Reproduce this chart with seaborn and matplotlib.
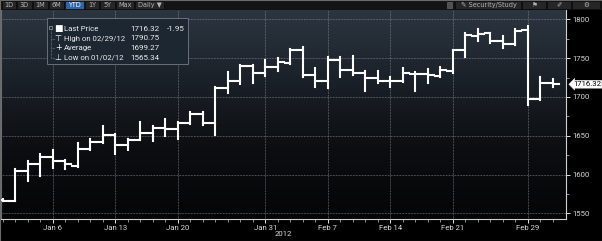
import numpy as np
import pandas as pd
import matplotlib
matplotlib.use("Agg")
import matplotlib.pyplot as plt
import seaborn as sns
from matplotlib.patches import Rectangle
from matplotlib.colors import LinearSegmentedColormap
import matplotlib.transforms as mtransforms

# ---------------- data ----------------
opens = [1567, 1566, 1604, 1614, 1623, 1618, 1611, 1633, 1642, 1651, 1638, 1645, 1653, 1660, 1658,
         1666, 1678, 1666, 1712, 1721, 1740, 1731, 1739, 1744, 1760, 1728, 1721, 1748, 1735, 1731,
         1725, 1721, 1720, 1730, 1730, 1727, 1734, 1760, 1779, 1782, 1772, 1768, 1786, 1697, 1718]
highs = [1568, 1607, 1618, 1626, 1631, 1619, 1640, 1646, 1662, 1652, 1646, 1668, 1662, 1671, 1668,
         1681, 1680, 1713, 1732, 1741, 1741, 1748, 1750, 1762, 1764, 1737, 1751, 1752, 1753, 1733,
         1734, 1726, 1737, 1732, 1736, 1739, 1761, 1783, 1787, 1783, 1778, 1787, 1790.75, 1726, 1723]
lows = [1565.34, 1566, 1592, 1598, 1608, 1607, 1610, 1632, 1641, 1627, 1631, 1644, 1643, 1650, 1646,
        1665, 1664, 1651, 1705, 1716, 1718, 1727, 1734, 1743, 1726, 1713, 1711, 1726, 1728, 1707,
        1718, 1713, 1719, 1707, 1718, 1726, 1731, 1751, 1772, 1770, 1763, 1767, 1690, 1696, 1713]
closes = [1566, 1604, 1614, 1623, 1618, 1613, 1633, 1642, 1651, 1638, 1644, 1653, 1660, 1658, 1667,
          1678, 1666, 1711, 1721, 1740, 1731, 1739, 1745, 1760, 1728, 1721, 1748, 1735, 1731, 1725,
          1721, 1720, 1731, 1730, 1728, 1735, 1760, 1780, 1781, 1772, 1768, 1785, 1697, 1718.27, 1716.32]

tick_pos = [4, 9, 14, 21, 26, 31, 36, 42]
tick_labels = ["Jan 6", "Jan 13", "Jan 20", "Jan 31", "Feb 7", "Feb 14", "Feb 21", "Feb 29"]
y_ticks = [1550, 1600, 1650, 1700, 1750, 1800]
year_label = "2012"
last_price = 1716.32
last_price_label = "1716.32"

legend_icons = ["■", "⊤", "+", "⊥"]
legend_labels = ["Last Price", "High on 02/29/12", "Average", "Low on 01/02/12"]
legend_values = ["1716.32", "1790.75", "1699.27", "1565.34"]
legend_change = "-1.95"

toolbar_left = ["1D", "3D", "1M", "6M", "YTD", "1Y", "5Y", "Max", "Daily ▼"]

# ---------------- build OHLC segments (long form) ----------------
W = 0.45
rows = []
for i, (o, h, l, c) in enumerate(zip(opens, highs, lows, closes)):
    rows += [(i, l, f"v{i}"), (i, h, f"v{i}")]
    rows += [(i - W, o, f"o{i}"), (i, o, f"o{i}")]
    rows += [(i, c, f"c{i}"), (i + W, c, f"c{i}")]
df = pd.DataFrame(rows, columns=["x", "y", "seg"])

# ---------------- figure ----------------
FW, FH = 602, 241
fig = plt.figure(figsize=(FW / 100, FH / 100), dpi=100, facecolor="black")

def px(x0, y0, w, h):
    return [x0 / FW, 1 - (y0 + h) / FH, w / FW, h / FH]

pos = px(1, 10, 565, 208.5)
bg = fig.add_axes(pos, zorder=0)
cmap = LinearSegmentedColormap.from_list("bg", ["#2c3641", "#1b2129", "#0c0e11", "#050506"])
bg.imshow(np.linspace(0, 1, 256)[:, None], aspect="auto", cmap=cmap, extent=[0, 1, 0, 1])
bg.axis("off")

ax = fig.add_axes(pos, zorder=1)
ax.set_facecolor("none")

sns.lineplot(data=df, x="x", y="y", units="seg", estimator=None, sort=False,
             color="white", lw=1.5, ax=ax, legend=False)
for l in ax.lines:
    l.set_solid_capstyle("projecting")
    l.set_zorder(3)

ax.set_xlim(-0.16, 45.05)
ax.set_ylim(1543.3, 1812)
ax.set_xlabel("")
ax.set_ylabel("")

# axes / ticks
ax.yaxis.tick_right()
ax.set_yticks(y_ticks)
ax.set_yticklabels([str(v) for v in y_ticks])
ax.set_yticks(np.arange(1575, 1800, 50), minor=True)
ax.set_xticks(tick_pos)
ax.set_xticklabels(tick_labels)
ax.set_xticks(range(len(closes)), minor=True)
ax.tick_params(axis="both", which="major", colors="#e0e0e0", labelcolor="#d8d8d8",
               labelsize=5.6, length=3, width=0.7, direction="out", pad=1.5)
ax.tick_params(axis="both", which="minor", colors="#c8c8c8", length=1.8, width=0.5, direction="out")
for lab in ax.get_xticklabels() + ax.get_yticklabels():
    lab.set_fontfamily("Roboto")

ax.spines["top"].set_visible(False)
ax.spines["left"].set_color("#6a6f75")
ax.spines["left"].set_linewidth(0.8)
ax.spines["bottom"].set_color("#d0d0d0")
ax.spines["bottom"].set_linewidth(0.8)
ax.spines["right"].set_color("#d0d0d0")
ax.spines["right"].set_linewidth(0.8)

ax.set_axisbelow(True)
ax.grid(True, which="major", color="#8a9098", linestyle=(0, (1, 1.2)), lw=0.5)

fig.text(283 / FW, 1 - 234 / FH, year_label, ha="center", va="center",
         fontsize=5.6, color="#d8d8d8", family="Roboto")

# last price tag
trans = mtransforms.blended_transform_factory(ax.transAxes, ax.transData)
ax.text(1.0 + 7 / 565, last_price, last_price_label, transform=trans, ha="left", va="center",
        fontsize=5.6, color="black", family="Roboto", clip_on=False, zorder=6,
        bbox=dict(boxstyle="larrow,pad=0.12", fc="white", ec="white", lw=0.3))

# ---------------- legend box ----------------
fig.add_artist(Rectangle((47 / FW, 1 - 64 / FH), 141 / FW, 46 / FH, transform=fig.transFigure,
                         fc="#1d2731", ec="#68717b", lw=0.7, zorder=10))
fig.add_artist(Rectangle((49 / FW, 1 - 29 / FH), 3 / FW, 3 / FH, transform=fig.transFigure,
                         fc="none", ec="#9aa0a6", lw=0.5, zorder=11))
fig.add_artist(plt.Line2D([50.5 / FW, 50.5 / FW], [1 - 30 / FH, 1 - 58 / FH], transform=fig.transFigure,
                          color="#8a9098", lw=0.5, linestyle=(0, (1, 1)), zorder=11))
row_y = [29, 38.5, 48, 58]
for k, (ic, lb, vl) in enumerate(zip(legend_icons, legend_labels, legend_values)):
    yy = 1 - row_y[k] / FH
    if k > 0:
        fig.add_artist(plt.Line2D([50.5 / FW, 55 / FW], [yy, yy], transform=fig.transFigure,
                                  color="#8a9098", lw=0.5, linestyle=(0, (1, 1)), zorder=11))
    fig.text(58 / FW, yy, ic, ha="center", va="center", fontsize=6.5 if k == 0 else 5.8,
             color="white", zorder=12, family="DejaVu Sans")
    fig.text(64 / FW, yy, lb, ha="left", va="center", fontsize=5.6, color="#ececec",
             zorder=12, family="Roboto")
    fig.text(130 / FW, yy, vl, ha="left", va="center", fontsize=5.8, color="#ececec",
             zorder=12, family="Roboto")
fig.text(167 / FW, 1 - row_y[0] / FH, legend_change, ha="left", va="center", fontsize=5.8,
         color="#ececec", zorder=12, family="Roboto")

# ---------------- toolbar ----------------
fig.add_artist(Rectangle((0, 1 - 9.5 / FH), 1, 9.5 / FH, transform=fig.transFigure,
                         fc="#141414", ec="none", zorder=10))
edges = [2, 17, 33, 49, 65, 85, 100, 116, 135, 165]
for k, name in enumerate(toolbar_left):
    x0, x1 = edges[k], edges[k + 1]
    sel = name == "YTD"
    fig.add_artist(Rectangle((x0 / FW, 1 - 9 / FH), (x1 - x0 - 1) / FW, 8.5 / FH,
                             transform=fig.transFigure, fc="#2d66a8" if sel else "#262626",
                             ec="#0a0a0a", lw=0.5, zorder=11))
    fig.text((x0 + x1 - 1) / 2 / FW, 1 - 4.8 / FH, name, ha="center", va="center",
             fontsize=4.7, color="white" if sel else "#b4b4b4", zorder=12, family="DejaVu Sans")
fig.add_artist(Rectangle((447 / FW, 1 - 7.5 / FH), 5 / FW, 5 / FH, transform=fig.transFigure,
                         fc="#505050", ec="#707070", lw=0.4, zorder=11))
right_btns = [(455, 522, "✎ Security/Study"), (522, 547, "⚑"), (547, 572, "✐"), (572, 601, "⚙")]
for x0, x1, name in right_btns:
    fig.add_artist(Rectangle((x0 / FW, 1 - 9 / FH), (x1 - x0 - 1) / FW, 8.5 / FH,
                             transform=fig.transFigure, fc="#262626", ec="#0a0a0a", lw=0.5, zorder=11))
    fig.text((x0 + x1) / 2 / FW, 1 - 4.8 / FH, name, ha="center", va="center",
             fontsize=4.7, color="#b4b4b4", zorder=12, family="DejaVu Sans")

fig.add_artist(Rectangle((0, 0), 1, 1, transform=fig.transFigure, fc="none",
                         ec="#6a6a6a", lw=0.8, zorder=20))

fig.savefig("out.png", dpi=100, facecolor="black")
